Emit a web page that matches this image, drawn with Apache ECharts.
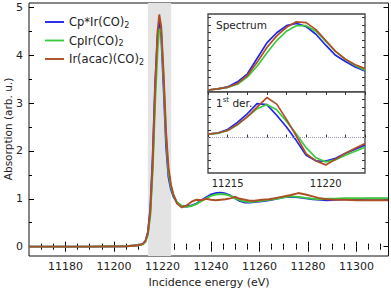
<!DOCTYPE html>
<html>
<head>
<meta charset="utf-8">
<script src="https://cdn.jsdelivr.net/npm/echarts@6/dist/echarts.min.js"></script>
<style>
html,body{margin:0;padding:0;background:#fff;}
#c{width:391px;height:290px;}
</style>
</head>
<body>
<div id="c"></div>
<script>
// ---------- data ----------
const seriesNames = ['Cp*Ir(CO)2', 'CpIr(CO)2', 'Ir(acac)(CO)2'];
const seriesColors = ['#2424ee', '#3dcb3d', '#ad4f26'];

const mainEnergy = [11165, 11190, 11205, 11210, 11212, 11213, 11214, 11215, 11216, 11217, 11218, 11218.7, 11219.5, 11220.5, 11221.5, 11222.5, 11223.5, 11224.5, 11226, 11228, 11230, 11232, 11234, 11236, 11238, 11240, 11242, 11244, 11246, 11248, 11250, 11252, 11254, 11256, 11258, 11261, 11264, 11267, 11270, 11273, 11276, 11279, 11282, 11285, 11288, 11291, 11295, 11300, 11305, 11313];
const absCpStar = [0, 0, 0.01, 0.03, 0.06, 0.12, 0.3, 0.8, 1.9, 3.4, 4.4, 4.7, 4.4, 3.3, 2.1, 1.45, 1.2, 1.05, 0.92, 0.85, 0.84, 0.86, 0.9, 0.97, 1.03, 1.09, 1.12, 1.13, 1.11, 1.07, 1.01, 0.95, 0.92, 0.92, 0.93, 0.95, 0.97, 1.0, 1.03, 1.04, 1.03, 1.01, 0.99, 0.98, 0.97, 0.98, 0.99, 0.99, 1.0, 1.0];
const absCp = [0, 0, 0.01, 0.03, 0.05, 0.1, 0.25, 0.65, 1.6, 3.0, 4.1, 4.55, 4.5, 3.5, 2.3, 1.55, 1.25, 1.08, 0.93, 0.85, 0.83, 0.85, 0.89, 0.95, 1.01, 1.06, 1.09, 1.1, 1.09, 1.06, 1.01, 0.97, 0.94, 0.93, 0.94, 0.96, 0.98, 1.0, 1.03, 1.05, 1.04, 1.02, 1.0, 0.99, 1.0, 1.0, 1.01, 1.01, 1.01, 1.01];
const absAcac = [0, 0, 0.01, 0.03, 0.06, 0.12, 0.28, 0.72, 1.75, 3.3, 4.5, 4.85, 4.6, 3.6, 2.4, 1.65, 1.3, 1.1, 0.9, 0.82, 0.86, 0.94, 0.98, 0.97, 1.0, 0.98, 0.97, 0.98, 0.99, 1.01, 1.04, 1.0, 0.98, 0.96, 0.96, 0.98, 0.99, 1.02, 1.05, 1.08, 1.12, 1.09, 1.05, 1.01, 0.99, 0.98, 0.98, 0.97, 0.97, 0.97];

const bandRange = [11214, 11223.6];

const insetEnergy = [11214, 11214.5, 11215, 11215.5, 11216, 11216.5, 11217, 11217.5, 11218, 11218.5, 11219, 11219.5, 11220, 11220.5, 11221, 11221.5, 11222];
const specCpStar = [0.026, 0.04, 0.065, 0.13, 0.23, 0.43, 0.63, 0.76, 0.85, 0.88, 0.84, 0.74, 0.6, 0.47, 0.39, 0.32, 0.27];
const specCp     = [0.026, 0.04, 0.06, 0.1, 0.19, 0.33, 0.5, 0.66, 0.78, 0.85, 0.85, 0.78, 0.65, 0.52, 0.42, 0.34, 0.28];
const specAcac   = [0.026, 0.04, 0.06, 0.11, 0.21, 0.38, 0.57, 0.72, 0.83, 0.9, 0.89, 0.8, 0.66, 0.52, 0.42, 0.35, 0.3];
const derCpStar = [0.34, 0.45, 0.8, 1.5, 2.35, 3.35, 3.25, 2.2, 1.05, -0.3, -1.75, -2.3, -2.33, -2.05, -1.56, -1.15, -0.75];
const derCp     = [0.34, 0.42, 0.7, 1.25, 2.05, 2.85, 3.27, 2.75, 1.6, 0.35, -1.0, -2.0, -2.4, -2.2, -1.75, -1.35, -0.95];
const derAcac   = [0.34, 0.45, 0.7, 1.3, 2.05, 3.0, 3.95, 3.3, 1.8, 0.15, -1.6, -2.3, -2.7, -2.15, -1.56, -1.05, -0.6];

const xMajorTicks = [11180, 11200, 11220, 11240, 11260, 11280, 11300];
const yMajorTicks = [0, 1, 2, 3, 4, 5];
const insetXTicks = [11215, 11220];

// ---------- chart ----------
const X_MIN = 11165, X_MAX = 11313.2, Y_MIN = -0.195, Y_MAX = 5.09;
const xMinor = []; for (let v = 11170; v <= 11310; v += 5) if (xMajorTicks.indexOf(v) < 0) xMinor.push(v);
const yMinor = []; for (let v = 0.5; v < 5; v += 1) yMinor.push(v);
const upTicks = []; for (let k = 0; k < 10; k++) upTicks.push(0.09 + k * 0.096);
const loTicks = []; for (let k = -4; k <= 5; k++) loTicks.push(k * 0.75);

const FONT = 'DejaVu Sans';
const mainLists = [absCpStar, absCp, absAcac];
const specLists = [specCpStar, specCp, specAcac];
const derLists = [derCpStar, derCp, derAcac];
const zip = (xs, ys) => xs.map((x, i) => [x, ys[i]]);
const plain = v => String(v);

function tickAxis(base) {
  return Object.assign({
    type: 'value', axisLine: { show: false }, splitLine: { show: false },
    axisLabel: { show: false }
  }, base);
}

const xAxes = [
  tickAxis({ gridIndex: 0, position: 'bottom', min: X_MIN, max: X_MAX,
    axisTick: { inside: true, length: 5, customValues: xMajorTicks, lineStyle: { color: '#000' } },
    axisLabel: { show: true, customValues: xMajorTicks, formatter: plain, margin: 5, color: '#222', fontSize: 11, fontFamily: FONT } }),
  tickAxis({ gridIndex: 0, position: 'bottom', min: X_MIN, max: X_MAX,
    axisTick: { inside: true, length: 3, customValues: xMinor, lineStyle: { color: '#000' } } }),
  tickAxis({ gridIndex: 0, position: 'top', min: X_MIN, max: X_MAX,
    axisTick: { inside: true, length: 5, customValues: xMajorTicks, lineStyle: { color: '#000' } } }),
  tickAxis({ gridIndex: 0, position: 'top', min: X_MIN, max: X_MAX,
    axisTick: { inside: true, length: 3, customValues: xMinor, lineStyle: { color: '#000' } } }),
  tickAxis({ gridIndex: 1, position: 'top', min: 11214, max: 11222, interval: 1,
    axisTick: { inside: true, length: 3, lineStyle: { color: '#333' } } }),
  tickAxis({ gridIndex: 2, position: 'bottom', min: 11214, max: 11222, interval: 1,
    axisTick: { inside: true, length: 3, lineStyle: { color: '#333' } },
    axisLabel: { show: true, customValues: insetXTicks, formatter: plain, margin: 5, color: '#222', fontSize: 10, fontFamily: FONT } })
];

const yAxes = [
  tickAxis({ gridIndex: 0, position: 'left', min: Y_MIN, max: Y_MAX,
    axisTick: { inside: true, length: 5, customValues: yMajorTicks, lineStyle: { color: '#000' } },
    axisLabel: { show: true, customValues: yMajorTicks, formatter: plain, margin: 6, color: '#222', fontSize: 11, fontFamily: FONT } }),
  tickAxis({ gridIndex: 0, position: 'left', min: Y_MIN, max: Y_MAX,
    axisTick: { inside: true, length: 3, customValues: yMinor, lineStyle: { color: '#000' } } }),
  tickAxis({ gridIndex: 0, position: 'right', min: Y_MIN, max: Y_MAX,
    axisTick: { inside: true, length: 5, customValues: yMajorTicks, lineStyle: { color: '#000' } } }),
  tickAxis({ gridIndex: 0, position: 'right', min: Y_MIN, max: Y_MAX,
    axisTick: { inside: true, length: 3, customValues: yMinor, lineStyle: { color: '#000' } } }),
  tickAxis({ gridIndex: 1, position: 'left', min: 0, max: 1,
    axisTick: { inside: true, length: 3, customValues: upTicks, lineStyle: { color: '#333' } } }),
  tickAxis({ gridIndex: 1, position: 'right', min: 0, max: 1,
    axisTick: { inside: true, length: 3, customValues: upTicks, lineStyle: { color: '#333' } } }),
  tickAxis({ gridIndex: 2, position: 'left', min: -3.5, max: 4.5,
    axisTick: { inside: true, length: 3, customValues: loTicks, lineStyle: { color: '#333' } } }),
  tickAxis({ gridIndex: 2, position: 'right', min: -3.5, max: 4.5,
    axisTick: { inside: true, length: 3, customValues: loTicks, lineStyle: { color: '#333' } } })
];

const series = [];
seriesNames.forEach((name, i) => {
  const s = {
    name: name, type: 'line', xAxisIndex: 0, yAxisIndex: 0, symbol: 'none',
    data: zip(mainEnergy, mainLists[i]), z: 3 + i,
    lineStyle: { color: seriesColors[i], width: 1.9 }, itemStyle: { color: seriesColors[i] }
  };
  if (i === 0) {
    s.markArea = { silent: true, z: 1, itemStyle: { color: '#e3e3e3' },
      data: [[{ xAxis: bandRange[0] }, { xAxis: bandRange[1] }]] };
  }
  series.push(s);
});
seriesNames.forEach((name, i) => {
  series.push({
    name: name, type: 'line', xAxisIndex: 4, yAxisIndex: 4, symbol: 'none',
    data: zip(insetEnergy, specLists[i]), z: 3 + i,
    lineStyle: { color: seriesColors[i], width: 1.7 }, itemStyle: { color: seriesColors[i] }
  });
});
seriesNames.forEach((name, i) => {
  const s = {
    name: name, type: 'line', xAxisIndex: 5, yAxisIndex: 6, symbol: 'none',
    data: zip(insetEnergy, derLists[i]), z: 3 + i,
    lineStyle: { color: seriesColors[i], width: 1.7 }, itemStyle: { color: seriesColors[i] }
  };
  if (i === 0) {
    s.markLine = { silent: true, symbol: 'none', label: { show: false },
      lineStyle: { type: 'dotted', color: '#9a9ab0', width: 1 },
      data: [{ yAxis: 0 }] };
  }
  series.push(s);
});

const chart = echarts.init(document.getElementById('c'), null, { renderer: 'svg' });
chart.setOption({
  animation: false,
  backgroundColor: '#fff',
  grid: [
    { left: 29, top: 3, width: 359.5, height: 253, show: true, borderColor: '#111', borderWidth: 1, backgroundColor: 'transparent' },
    { left: 208, top: 14, width: 157, height: 78, show: true, borderColor: '#444', borderWidth: 1.3, backgroundColor: '#fff' },
    { left: 208, top: 92, width: 157, height: 81, show: true, borderColor: '#444', borderWidth: 1.3, backgroundColor: '#fff' }
  ],
  xAxis: xAxes,
  yAxis: yAxes,
  legend: {
    left: 40, top: 11, orient: 'vertical', itemWidth: 19, itemHeight: 2, itemGap: 5.5,
    icon: 'path://M0,0H20V2H0Z',
    data: seriesNames,
    formatter: n => '{a|' + n.slice(0, -1) + '}{s|' + n.slice(-1) + '}',
    textStyle: {
      color: '#222', fontFamily: FONT,
      rich: {
        a: { fontSize: 11.5, lineHeight: 14, fontFamily: FONT, color: '#222' },
        s: { fontSize: 8, lineHeight: 8, verticalAlign: 'bottom', fontFamily: FONT, color: '#222' }
      }
    }
  },
  graphic: [
    { type: 'text', x: 209, y: 282, style: { text: 'Incidence energy (eV)', fontSize: 11, fontFamily: FONT, fill: '#222', align: 'center', verticalAlign: 'middle' } },
    { type: 'text', x: 8, y: 129, rotation: Math.PI / 2, style: { text: 'Absorption (arb. u.)', fontSize: 10.5, fontFamily: FONT, fill: '#222', align: 'center', verticalAlign: 'middle' } },
    { type: 'text', x: 216, y: 25, z: 100, style: { text: 'Spectrum', fontSize: 10.5, fontFamily: FONT, fill: '#222', align: 'left', verticalAlign: 'middle' } },
    { type: 'text', x: 216, y: 103, z: 100, style: {
        text: '{a|1}{p|st}{a| der.}', fontFamily: FONT, fill: '#222', align: 'left', verticalAlign: 'middle',
        rich: {
          a: { fontSize: 10.5, lineHeight: 13, fontFamily: FONT, fill: '#222' },
          p: { fontSize: 7, lineHeight: 7, verticalAlign: 'top', fontFamily: FONT, fill: '#222' }
        } } }
  ],
  series: series
});
</script>
</body>
</html>
